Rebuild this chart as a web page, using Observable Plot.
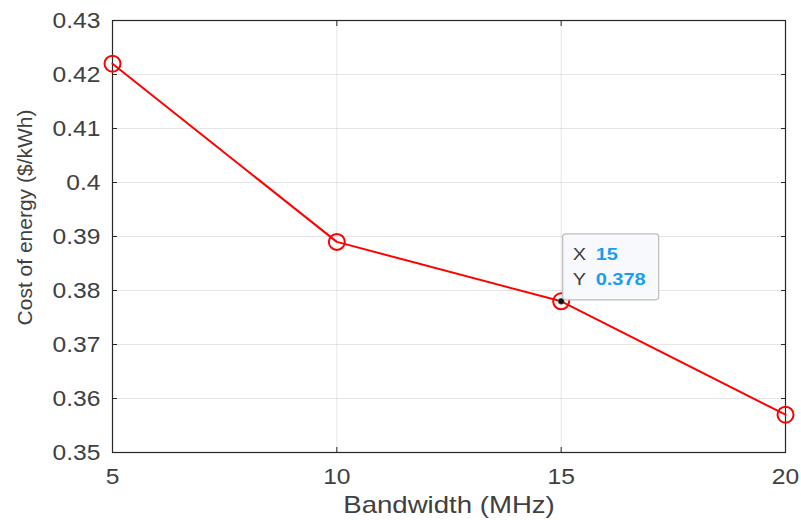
<!DOCTYPE html>
<html>
<head>
<meta charset="utf-8">
<script src="https://cdn.jsdelivr.net/npm/d3@7"></script>
<script src="https://cdn.jsdelivr.net/npm/@observablehq/plot@0.6"></script>
<style>
  html, body { margin: 0; padding: 0; background: #fff; }
  #chart svg { display: block; }
</style>
</head>
<body>
<div id="chart"></div>
<script>
const bandwidth = [5, 10, 15, 20];
const cost = [0.422, 0.389, 0.378, 0.357];
const xTicks = [5, 10, 15, 20];
const yTicks = [0.35, 0.36, 0.37, 0.38, 0.39, 0.40, 0.41, 0.42, 0.43];
const yTickLabels = ["0.35", "0.36", "0.37", "0.38", "0.39", "0.4", "0.41", "0.42", "0.43"];
const xLabel = "Bandwidth (MHz)";
const yLabel = "Cost of energy ($/kWh)";
const tipX = [15];
const tipY = [0.378];

const data = bandwidth.map((b, i) => ({b, c: cost[i]}));
const font = "'Liberation Sans', Arial, Helvetica, sans-serif";
const axisColor = "#262626";
const textColor = "#404040";

const plot = Plot.plot({
  width: 801,
  height: 520,
  marginLeft: 112,
  marginRight: 16,
  marginTop: 20,
  marginBottom: 68,
  style: {fontFamily: font, fontSize: "22px", color: textColor, background: "#fff"},
  x: {domain: [5, 20]},
  y: {domain: [0.35, 0.43]},
  marks: [
    Plot.gridX(xTicks, {stroke: "#000", strokeOpacity: 0.1}),
    Plot.gridY(yTicks, {stroke: "#000", strokeOpacity: 0.1}),
    Plot.frame({stroke: axisColor, strokeWidth: 1.2}),
    Plot.axisX(xTicks, {anchor: "bottom", tickSize: 0, tickPadding: 16, fill: textColor, fontSize: 22, label: null}),
    Plot.axisX(xTicks, {anchor: "bottom", tickSize: -5, text: null, stroke: axisColor, label: null}),
    Plot.axisX(xTicks, {anchor: "top", tickSize: -5, text: null, stroke: axisColor, label: null}),
    Plot.axisY(yTicks, {anchor: "left", tickSize: 0, tickPadding: 12, fontSize: 22,
      tickFormat: (d, i) => yTickLabels[i], fill: textColor, label: null}),
    Plot.axisY(yTicks, {anchor: "left", tickSize: -5, text: null, stroke: axisColor, label: null}),
    Plot.axisY(yTicks, {anchor: "right", tickSize: -5, text: null, stroke: axisColor, label: null}),
    Plot.text([xLabel], {frameAnchor: "bottom", dy: 53, lineAnchor: "middle", textAnchor: "middle",
      fontSize: 23, fill: textColor}),
    Plot.text([yLabel], {frameAnchor: "left", rotate: -90, dx: -87, dy: -19, lineAnchor: "middle", textAnchor: "middle",
      fontSize: 21, fill: textColor}),
    Plot.line(data, {x: "b", y: "c", stroke: "#ff0000", strokeWidth: 2}),
    Plot.dot(data, {x: "b", y: "c", r: 8, stroke: "#ff0000", strokeWidth: 2, fill: "none"}),
    Plot.dot(tipX.map((x, i) => ({x, y: tipY[i]})), {x: "x", y: "y", r: 3, fill: "#111", stroke: "#666", strokeWidth: 0.6})
  ]
});

document.getElementById("chart").appendChild(plot);

// The reference renders text horizontally widened; mimic that with a horizontal scale.
function stretchEl(el, s) {
  const t = el.getAttribute("transform") || "";
  el.setAttribute("transform", `${t} scale(${s},1)`);
}
d3.select(plot).selectAll('g[aria-label="x-axis tick label"] text').each(function () { stretchEl(this, 1.12); });
d3.select(plot).selectAll('g[aria-label="y-axis tick label"] text').each(function () { stretchEl(this, 1.12); });
d3.select(plot).selectAll("text").filter(function () { return this.textContent === xLabel; })
  .each(function () { stretchEl(this, 1.2); });

// MATLAB-style data tip anchored at the selected point using Plot's scales
const sx = plot.scale("x");
const sy = plot.scale("y");
const svg = d3.select(plot);
tipX.forEach((xv, i) => {
  const px = sx.apply(xv);
  const py = sy.apply(tipY[i]);
  const g = svg.append("g").attr("transform", `translate(${px + 2},${py - 1})`);
  g.append("rect")
    .attr("x", 0).attr("y", -66).attr("width", 96).attr("height", 66)
    .attr("rx", 3).attr("ry", 3)
    .attr("fill", "#f8f9fd").attr("stroke", "#bdbdbd").attr("stroke-width", 1.2);
  const rows = [["X", String(xv), -40], ["Y", String(tipY[i]), -15]];
  rows.forEach(([k, v, by]) => {
    g.append("text").attr("transform", `translate(10,${by}) scale(1.25,1)`)
      .attr("text-anchor", "start").attr("fill", "#404040")
      .style("font-family", font).style("font-size", "16px").text(k);
    g.append("text").attr("transform", `translate(33,${by}) scale(1.25,1)`)
      .attr("text-anchor", "start").attr("fill", "#1a9cf0").attr("font-weight", "bold")
      .style("font-family", font).style("font-size", "16px").text(v);
  });
});
</script>
</body>
</html>
